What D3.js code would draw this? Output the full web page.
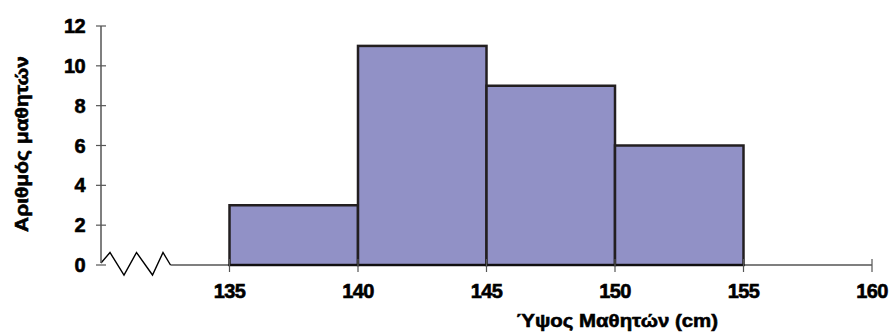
<!DOCTYPE html>
<html><head><meta charset="utf-8">
<script src="https://cdn.jsdelivr.net/npm/d3@7"></script>
<style>body{margin:0;background:#fff}svg{display:block}text{font-family:"Liberation Sans",Arial,sans-serif;font-weight:bold;fill:#000;stroke:#000;stroke-width:0.6px}</style>
</head><body><svg id="c" width="894" height="334"></svg>
<script>
const binStarts = [135, 140, 145, 150];
const binEnds = [140, 145, 150, 155];
const counts = [3, 11, 9, 6];
const xTicks = [135, 140, 145, 150, 155, 160];
const yTicks = [0, 2, 4, 6, 8, 10, 12];
const xTitle = "Ύψος Μαθητών (cm)";
const yTitle = "Αριθμός μαθητών";

const svg = d3.select("#c");
const x = d3.scaleLinear().domain([130, 160]).range([101, 872]);
const y = d3.scaleLinear().domain([0, 12]).range([265, 26]);

// bars
svg.selectAll("rect.bar").data(counts).join("rect")
  .attr("x", (d,i) => x(binStarts[i]))
  .attr("y", d => y(d))
  .attr("width", (d,i) => x(binEnds[i]) - x(binStarts[i]))
  .attr("height", d => y(0) - y(d))
  .attr("fill", "#9191c6")
  .attr("stroke", "#231f20")
  .attr("stroke-width", 2.5);

// x axis line (after break)
svg.append("line").attr("x1", 170.5).attr("x2", x(160)).attr("y1", y(0)).attr("y2", y(0))
  .attr("stroke", "#000").attr("stroke-width", 1.2);
// break zigzag
const zz = [[101,263],[110,252.5],[124,275],[136.5,252.5],[152.5,275],[163,252.5],[170.5,265]];
svg.append("path").attr("d", d3.line()(zz)).attr("fill","none").attr("stroke","#000").attr("stroke-width",1.4);

// x ticks
svg.selectAll("line.xt").data(xTicks).join("line")
  .attr("x1", d => x(d)).attr("x2", d => x(d)).attr("y1", 259).attr("y2", 272)
  .attr("stroke", "#555").attr("stroke-width", 1.2);
svg.selectAll("text.xl").data(xTicks).join("text")
  .attr("x", d => x(d)).attr("y", 298).attr("text-anchor", "middle")
  .attr("font-size", 20).attr("letter-spacing", -0.6).text(d => d);

// y axis
svg.append("line").attr("x1", x(130)).attr("x2", x(130)).attr("y1", y(12)).attr("y2", 263)
  .attr("stroke", "#555").attr("stroke-width", 1.5);
svg.selectAll("line.yt").data(yTicks).join("line")
  .attr("x1", 96).attr("x2", 106).attr("y1", d => y(d)).attr("y2", d => y(d))
  .attr("stroke", "#555").attr("stroke-width", 1.2);
svg.selectAll("text.yl").data(yTicks).join("text")
  .attr("x", 85).attr("y", d => y(d) + 7).attr("text-anchor", "end")
  .attr("font-size", 20).attr("letter-spacing", -0.6).text(d => d);

// titles
svg.append("text").attr("x", 617).attr("y", 327).attr("text-anchor", "middle")
  .attr("font-size", 19).attr("textLength", 202).attr("lengthAdjust", "spacingAndGlyphs").text(xTitle);
svg.append("text").attr("transform", "translate(28,144) rotate(-90)").attr("text-anchor", "middle")
  .attr("font-size", 18).attr("textLength", 176).attr("lengthAdjust", "spacingAndGlyphs").text(yTitle);
</script></body></html>
